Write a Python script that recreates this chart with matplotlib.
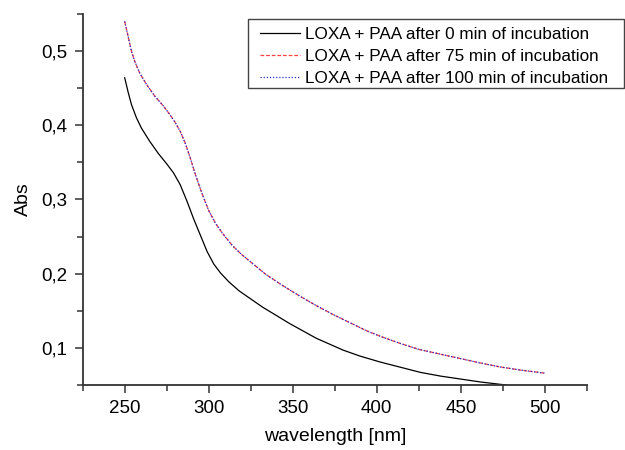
import matplotlib
matplotlib.use("Agg")
import matplotlib.pyplot as plt
from matplotlib.patches import Rectangle
from matplotlib.ticker import MultipleLocator, FuncFormatter

plt.rcParams['font.family'] = ['Liberation Sans', 'DejaVu Sans']

## -------------------- data
wl_0 = [250, 252, 254, 257, 260, 265, 270, 275, 279, 283, 287, 291, 295, 299,
        303, 307, 312, 318, 325, 332, 340, 348, 356, 364, 372, 380, 390, 402,
        414, 426, 438, 450, 462, 477]
abs_0 = [0.464, 0.445, 0.428, 0.410, 0.396, 0.378, 0.362, 0.348, 0.336, 0.320,
         0.298, 0.274, 0.252, 0.230, 0.213, 0.201, 0.189, 0.177, 0.166, 0.155,
         0.144, 0.133, 0.123, 0.113, 0.105, 0.097, 0.089, 0.081, 0.074, 0.067,
         0.062, 0.058, 0.054, 0.050]

wl_75 = [250, 252, 254, 256, 259, 263, 268, 273, 277, 280, 283, 286, 289, 292,
         296, 300, 304, 308, 314, 320, 327, 334, 344, 354, 364, 374, 384, 394,
         404, 414, 425, 437, 449, 461, 473, 486, 500]
abs_75 = [0.540, 0.520, 0.500, 0.486, 0.470, 0.455, 0.439, 0.426, 0.414, 0.404,
          0.392, 0.376, 0.356, 0.334, 0.308, 0.285, 0.268, 0.255, 0.238, 0.225,
          0.212, 0.199, 0.184, 0.170, 0.157, 0.145, 0.134, 0.123, 0.114, 0.106,
          0.098, 0.092, 0.086, 0.080, 0.0745, 0.070, 0.066]

wl_100 = list(wl_75)
abs_100 = list(abs_75)

labels = ["LOXA + PAA after 0 min of incubation",
          "LOXA + PAA after 75 min of incubation",
          "LOXA + PAA after 100 min of incubation"]

## -------------------- plot
W, H = 625, 450
fig = plt.figure(figsize=(W / 100, H / 100), dpi=100)
ax = fig.add_axes([0.1323, 0.1444, 0.8067, 0.8246])

ax.plot(wl_0, abs_0, color='black', lw=0.9, label=labels[0])
ax.plot(wl_75, abs_75, color='#ff4040', lw=0.9, ls=(0, (3, 1.5)), label=labels[1])
ax.plot(wl_100, abs_100, color='#2a2ac8', lw=0.9, ls=(0, (1, 1.5)), label=labels[2])

ax.set_xlim(225, 525)
ax.set_ylim(0.05, 0.55)
ax.xaxis.set_major_locator(MultipleLocator(50))
ax.xaxis.set_minor_locator(MultipleLocator(25))
ax.yaxis.set_major_locator(MultipleLocator(0.1))
ax.yaxis.set_minor_locator(MultipleLocator(0.05))
ax.yaxis.set_major_formatter(FuncFormatter(lambda v, p: ('%.1f' % v).replace('.', ',')))
ax.xaxis.set_major_formatter(FuncFormatter(lambda v, p: '%d' % v))

for s in ['top', 'right']:
    ax.spines[s].set_visible(False)
for s in ['left', 'bottom']:
    ax.spines[s].set_linewidth(1.3)
    ax.spines[s].set_color('#333333')

ax.tick_params(which='major', direction='out', length=6, width=1.1, color='#333333',
               labelsize=13.5, pad=5)
ax.tick_params(which='minor', direction='out', length=4, width=1.1, color='#333333')

ax.set_xlabel('wavelength [nm]', fontsize=14, labelpad=8)
ax.set_ylabel('Abs', fontsize=14, labelpad=7)

# legend: entries without frame, box drawn separately (wider side padding than top/bottom)
leg = ax.legend(loc='upper left', bbox_to_anchor=(260 / W, 1 - 27 / H),
                bbox_transform=fig.transFigure, fontsize=12.3, frameon=False,
                handlelength=2.35, labelspacing=0.4, borderpad=0,
                handletextpad=0.3, borderaxespad=0)
leg.set_zorder(5)
box = Rectangle((248 / W, 1 - 87.5 / H), 376 / W, 69 / H, transform=fig.transFigure,
                facecolor='white', edgecolor='#444444', lw=1.0, zorder=4, clip_on=False)
ax.add_artist(box)

fig.savefig('out.png', dpi=100)
